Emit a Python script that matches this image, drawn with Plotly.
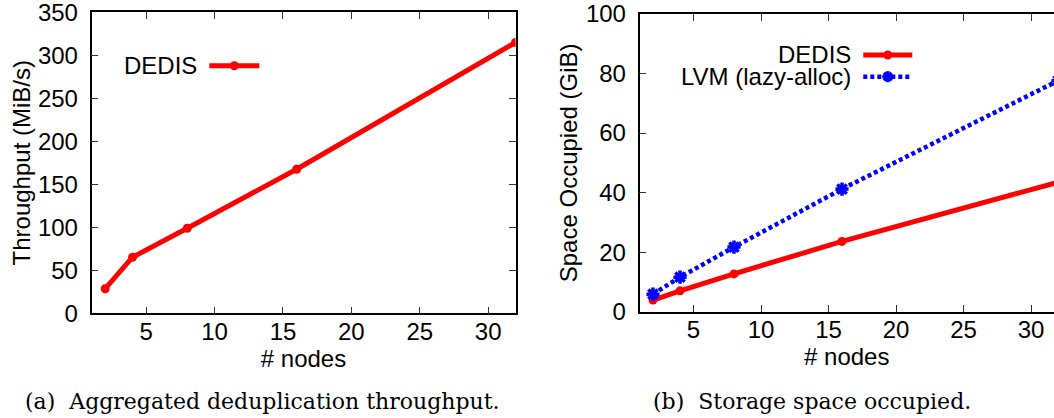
import plotly.graph_objects as go

# ---- data ----
nodes = [2, 4, 8, 16, 32]
dedis_throughput = [28.6, 65.2, 98.8, 167.5, 314.8]
dedis_space = [3.9, 7.0, 12.7, 23.6, 43.5]
lvm_space = [5.9, 11.6, 21.7, 41.2, 77.6]
x_ticks = [5, 10, 15, 20, 25, 30]

W, H = 1054, 418
RED = "#ff0000"
BLUE = "#0000ff"
SANS = "Liberation Sans, Arial, sans-serif"
SERIF = "DejaVu Serif, serif"


def px(x):
    return x / W


def py(y):
    return 1 - y / H


fig = go.Figure()

fig.add_trace(go.Scatter(
    x=nodes, y=dedis_throughput, mode="lines+markers", name="DEDIS",
    line=dict(color=RED, width=5), marker=dict(size=9, color=RED),
    xaxis="x", yaxis="y", showlegend=False))

fig.add_trace(go.Scatter(
    x=nodes, y=dedis_space, mode="lines+markers", name="DEDIS",
    line=dict(color=RED, width=5), marker=dict(size=9, color=RED),
    xaxis="x2", yaxis="y2", showlegend=False))

fig.add_trace(go.Scatter(
    x=nodes, y=lvm_space, mode="lines+markers", name="LVM (lazy-alloc)",
    line=dict(color=BLUE, width=4.5, dash="4px,3px"),
    marker=dict(size=11, color=BLUE, symbol="asterisk-open",
                line=dict(color=BLUE, width=3.5)),
    xaxis="x2", yaxis="y2", showlegend=False))

axis_common = dict(
    showgrid=False, zeroline=False, showline=True, linecolor="black",
    linewidth=1.5, ticks="inside", ticklen=7, tickwidth=1.2,
    tickcolor="#333333", tickfont=dict(family=SANS, size=24, color="black"),
    automargin=False, ticklabeloverflow="allow",
)
x_common = dict(axis_common, ticklabelstandoff=-4)
y_common = dict(axis_common, ticklabelstandoff=7)

fig.update_layout(
    template="none",
    width=W, height=H,
    margin=dict(l=0, r=0, t=0, b=0, pad=0),
    paper_bgcolor="white", plot_bgcolor="white",
    font=dict(family=SANS, size=24, color="black"),
    xaxis=dict(domain=[px(91.5), px(515.5)], range=[1, 32], anchor="y",
               tickvals=x_ticks, mirror="ticks",
               title=dict(text="# nodes", standoff=0,
                          font=dict(family=SANS, size=24)),
               **x_common),
    yaxis=dict(domain=[py(313.3), py(12.2)], range=[0, 350], anchor="x",
               dtick=50, mirror="ticks",
               title=dict(text="Throughput (MiB/s)", standoff=1,
                          font=dict(family=SANS, size=24)),
               **y_common),
    xaxis2=dict(domain=[px(639.5), 1.0], range=[1, 31.7], anchor="y2",
                tickvals=x_ticks, mirror="ticks",
                title=dict(text="# nodes", standoff=0,
                           font=dict(family=SANS, size=24)),
                **x_common),
    yaxis2=dict(domain=[py(311.7), py(14)], range=[0, 100], anchor="x2",
                dtick=20, mirror=False,
                title=dict(text="Space Occupied (GiB)", standoff=1,
                           font=dict(family=SANS, size=24)),
                **y_common),
    yaxis3=dict(domain=[py(311.7), py(14)], range=[0, 100], anchor="x2",
                overlaying="y2", side="right", dtick=20, showgrid=False,
                zeroline=False, showline=False, ticks="inside", ticklen=7,
                tickwidth=1.2, tickcolor="#333333", showticklabels=False,
                automargin=False),
)

# manual gnuplot-style legends (text on the left, sample on the right)
legend_items = [
    # text right x, y center, line x0, x1, color, dash, marker
    (198.3, 65.7, 209.3, 259.3, RED, None, "circle"),
    (851.7, 55.0, 863.3, 912.3, RED, None, "circle"),
    (851.7, 76.7, 863.3, 912.3, BLUE, "4px,3px", "asterisk"),
]
legend_texts = ["DEDIS", "DEDIS", "LVM (lazy-alloc)"]
annotations = []
shapes = []
for (tx, ty, lx0, lx1, col, dash, mk), txt in zip(legend_items, legend_texts):
    annotations.append(dict(
        x=px(tx), y=py(ty), xref="paper", yref="paper", text=txt,
        showarrow=False, xanchor="right", yanchor="middle", borderpad=0,
        font=dict(family=SANS, size=24, color="black")))
    line = dict(color=col, width=5 if dash is None else 4.5)
    if dash:
        line["dash"] = dash
    shapes.append(dict(type="line", xref="paper", yref="paper",
                       x0=px(lx0), x1=px(lx1), y0=py(ty), y1=py(ty),
                       line=line))
    cx = (lx0 + lx1) / 2
    if mk == "circle":
        r = 4.5
        shapes.append(dict(type="circle", xref="paper", yref="paper",
                           x0=px(cx - r), x1=px(cx + r),
                           y0=py(ty + r), y1=py(ty - r),
                           fillcolor=col, line=dict(color=col, width=0)))
    else:
        r = 5.5
        for dx, dy in [(r, 0), (0, r), (r * 0.7, r * 0.7), (r * 0.7, -r * 0.7)]:
            shapes.append(dict(type="line", xref="paper", yref="paper",
                               x0=px(cx - dx), x1=px(cx + dx),
                               y0=py(ty - dy), y1=py(ty + dy),
                               line=dict(color=col, width=3.5)))

# sub-figure captions
annotations.append(dict(
    x=px(23), y=py(401), xref="paper", yref="paper",
    text="(a)&nbsp; Aggregated deduplication throughput.", showarrow=False,
    xanchor="left", yanchor="middle",
    font=dict(family=SERIF, size=22, color="black")))
annotations.append(dict(
    x=px(651), y=py(401), xref="paper", yref="paper",
    text="(b)&nbsp; Storage space occupied.", showarrow=False,
    xanchor="left", yanchor="middle",
    font=dict(family=SERIF, size=22, color="black")))

fig.update_layout(annotations=annotations, shapes=shapes)

fig.write_html("out.html",
               config={"displayModeBar": False},
               post_script="document.body.style.margin='0';"
                           "document.body.style.overflow='hidden';")
